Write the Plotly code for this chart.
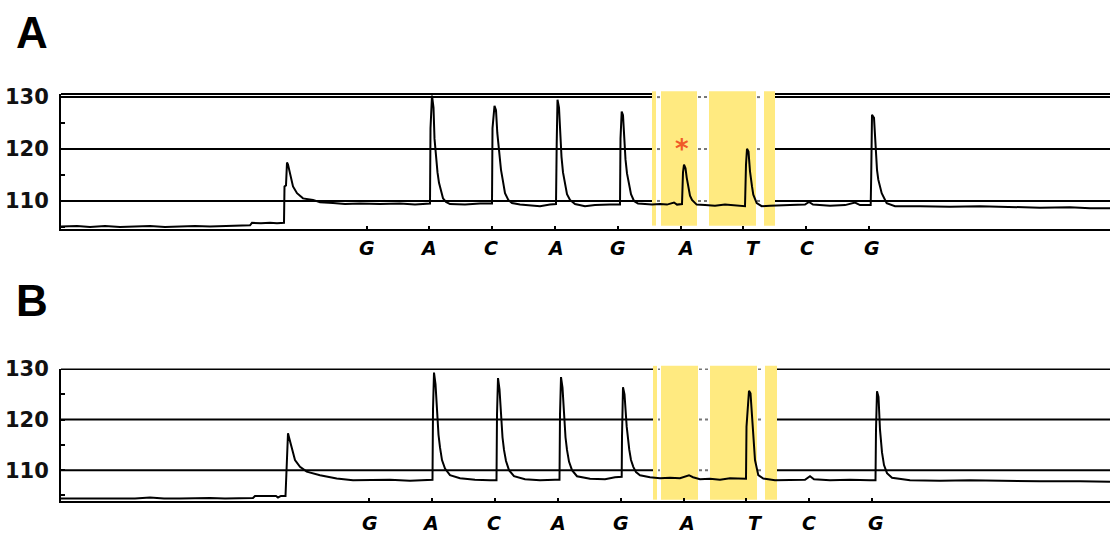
import plotly.graph_objects as go

# ---------------- data ----------------
# x axis: run time (arbitrary units), dispensation ticks along the axis
DISP_LETTERS = ["G", "A", "C", "A", "G", "A", "T", "C", "G"]
TICKS_A = [0, 61.5, 125, 188, 251, 314, 376, 439, 502]
TICKS_B = [0.2, 63, 126, 189, 252, 315, 377, 440, 503]
LETTER_X_A = [0, 61, 124, 188, 251, 318, 386, 440, 505]
LETTER_X_B = [1, 61, 125, 188, 252, 317, 386, 440, 507]

TA_X = [-306, -290, -277, -262, -247, -232, -217, -202, -187, -172, -157, -142, -127, -117, -115, -106, -97, -90, -83,
        -82.5, -81, -80, -79, -77, -74, -70, -64, -54, -47, -34, -22, -7, 13, 33, 48, 63,
        63.5, 65, 66.5, 67.5, 69, 70.5, 72, 74, 76, 79, 83, 98, 113, 125,
        125.5, 127.5, 129, 130.3, 132.3, 134, 135.7, 138, 141.3, 145, 153, 163, 173, 183, 189,
        189.7, 190.5, 192, 193, 194.5, 196, 198, 200, 203, 208, 218, 228, 243, 253,
        253.5, 254.7, 256, 257, 258.5, 260, 262, 264, 267, 271, 278, 285, 293, 300, 307, 310, 315,
        316, 317, 318.5, 319.7, 321.3, 323, 325, 329.7, 338, 348, 358, 368, 378,
        379, 380, 381.5, 383, 385, 386.3, 389.7, 394.7, 403, 413, 423, 438, 442, 446, 463, 478, 488, 493, 503.7,
        504.2, 505, 507, 508.5, 510, 511.3, 514.7, 519.7, 528, 553, 583, 613, 643, 673, 703, 723, 743]
TA_Y = [105.1, 105.2, 105.0, 105.2, 105.0, 105.1, 105.2, 105.0, 105.1, 105.2, 105.1, 105.2, 105.3, 105.3, 105.8, 105.7, 105.8, 105.7, 105.8,
        112.8, 113.0, 117.4, 117.0, 115.4, 112.8, 111.5, 110.5, 110.2, 109.75, 109.6, 109.4, 109.5, 109.4, 109.5, 109.3, 109.5,
        124, 130.3, 128, 122, 118, 115.5, 113.5, 111.8, 110.5, 109.8, 109.4, 109.3, 109.5, 109.5,
        124, 128.3, 127.5, 123.1, 118.6, 116, 114.1, 111.5, 110.2, 109.6, 109.3, 109.2, 109.0, 109.3, 109.4,
        121, 129.5, 128, 123, 118.5, 115.5, 113, 111.3, 110.2, 109.4, 109.0, 109.2, 109.3, 109.3,
        122, 127.2, 126.5, 122, 118, 115.3, 113, 111.3, 110.0, 109.5, 109.4, 109.3, 109.4, 109.3, 109.7, 109.3, 109.4,
        115.5, 117.0, 116.3, 114.5, 112.5, 111.0, 110.2, 109.3, 109.2, 109.1, 109.3, 109.2, 109.0,
        117, 120.05, 119.5, 115.7, 112.8, 111.2, 109.6, 109.0, 109.1, 109.2, 109.2, 109.3, 109.8, 109.3, 109.1, 109.2, 109.7, 109.2, 109.2,
        114.7, 126.6, 126.0, 120, 116, 114.1, 111.5, 109.55, 109.0, 109.0, 108.9, 109.0, 108.8, 108.7, 108.8, 108.6, 108.6]

TB_X = [-308, -290, -269, -250, -234, -219, -205, -189, -174, -159, -144, -129, -116, -114, -99, -93, -91, -88, -83.5,
        -83, -82.3, -81, -80, -77.3, -74, -69, -62.3, -49, -32.3, -16, 1, 21, 41, 56, 63.5,
        64, 65, 66.5, 68, 69.5, 71, 73, 76, 81, 91, 106, 121, 127.5,
        128, 129, 130.5, 132, 133.5, 135, 137, 140, 145, 156, 171, 186, 190.5,
        191, 192, 193.5, 195, 196.5, 198, 200, 203, 208, 221, 236, 246, 252.7,
        253, 254, 255.5, 257.7, 260.3, 262, 264.3, 267, 271, 281, 291, 301, 311, 316, 320, 324, 331, 341, 351, 361, 371, 377,
        377.5, 380, 381.5, 383.7, 386, 389.3, 394.3, 406, 421, 436, 441, 445, 461, 481, 501, 506.5,
        507, 508, 509.5, 511, 513, 515, 518, 523, 541, 571, 601, 631, 671, 711, 741]
TB_Y = [104.4, 104.4, 104.5, 104.4, 104.4, 104.6, 104.4, 104.4, 104.5, 104.5, 104.4, 104.4, 104.5, 104.9, 104.9, 104.9, 104.6, 104.9, 104.9,
        108.0, 113, 117.3, 116.5, 114.6, 112.0, 110.65, 109.7, 109.0, 108.35, 108.0, 108.0, 108.1, 107.9, 108.1, 108.1,
        122, 129.3, 127, 121, 117, 114.5, 112, 110.3, 109.0, 108.4, 108.1, 108.0, 108.0,
        121, 128.2, 126, 120, 116.5, 114, 111.8, 110.0, 108.8, 108.2, 108.0, 108.1, 108.1,
        121, 128.4, 126.3, 120, 116.5, 114, 111.7, 110.0, 108.8, 108.3, 108.2, 108.6, 108.7,
        116.6, 126.4, 125, 118.6, 114.0, 112.0, 110.65, 109.6, 109.0, 108.6, 108.4, 108.5, 108.4, 108.8, 109.0, 108.6, 108.2, 108.3, 108.1, 108.4, 108.3, 108.3,
        118.6, 125.7, 125.2, 118.6, 112.0, 109.0, 108.35, 108.0, 108.0, 108.1, 108.8, 108.2, 108.0, 108.1, 108.0, 108.0,
        118, 125.6, 124.5, 118, 113.5, 111, 109.4, 108.5, 108.0, 107.9, 108.0, 107.9, 107.8, 107.8, 107.7]

# highlighted (yellow) dispensation windows
HL_A = [(285, 289), (294, 330), (342, 389), (397, 408)]
HL_B = [(284, 288), (292, 329), (341, 388), (396, 408)]
YTICKS = [110, 120, 130]

# ---------------- figure ----------------
W, H = 1110, 536
fig = go.Figure()
fig.add_trace(go.Scatter(x=TA_X, y=TA_Y, mode="lines", line=dict(color="black", width=2),
                         xaxis="x", yaxis="y", showlegend=False, hoverinfo="skip"))
fig.add_trace(go.Scatter(x=TB_X, y=TB_Y, mode="lines", line=dict(color="black", width=2),
                         xaxis="x2", yaxis="y2", showlegend=False, hoverinfo="skip"))

xdom = [61 / W, 1.0]
ydomA = [1 - 229 / H, 1 - 94 / H]
ydomB = [1 - 501 / H, 1 - 368.5 / H]

tickfont = dict(family="DejaVu Sans", size=21, color="#111", weight="bold")
def yax(dom, rng, anchor):
    return dict(domain=dom, range=rng, anchor=anchor, tickvals=YTICKS, ticktext=[str(v) for v in YTICKS],
                showgrid=False, zeroline=False, automargin=False,
                showline=True, linecolor="black", linewidth=2, ticks="inside", ticklen=4,
                tickwidth=2, tickcolor="black", tickfont=tickfont, ticklabelstandoff=6,
                minor=dict(ticks="inside", ticklen=4, tickwidth=2, tickcolor="black",
                           tickvals=[105, 115, 125], showgrid=False),
                fixedrange=True)

def xax(dom, rng, ticks, anchor):
    return dict(domain=dom, range=rng, anchor=anchor, tickvals=ticks, ticktext=[""] * len(ticks),
                showgrid=False, zeroline=False, showline=True, linecolor="black", linewidth=2,
                automargin=False,
                ticks="inside", ticklen=3, tickwidth=2, tickcolor="black", fixedrange=True)

fig.update_layout(
    width=W, height=H, autosize=False,
    margin=dict(l=0, r=0, t=0, b=0),
    paper_bgcolor="white", plot_bgcolor="white",
    xaxis=xax(xdom, [-306, 743], TICKS_A, "y"),
    yaxis=yax(ydomA, [104.6, 130.6], "x"),
    xaxis2=xax(xdom, [-308, 741], TICKS_B, "y2"),
    yaxis2=yax(ydomB, [103.9, 130.1], "x2"),
)

shapes = []
YELLOW = "#FFEA80"
for (xr, yr, hl, ybot, top_frame) in [("x", "y", HL_A, 0.025, True), ("x2", "y2", HL_B, 0.01, False)]:
    # gridlines
    for v in YTICKS:
        shapes.append(dict(type="line", xref=xr + " domain", yref=yr, x0=0, x1=1, y0=v, y1=v,
                           line=dict(color="black", width=2), layer="below"))
    if top_frame:
        shapes.append(dict(type="line", xref=xr + " domain", yref=yr + " domain", x0=0, x1=1, y0=1, y1=1,
                           line=dict(color="black", width=2), layer="below"))
    # white backing over the whole window (hides gridlines there)
    shapes.append(dict(type="rect", xref=xr, yref=yr + " domain", x0=hl[0][0], x1=hl[-1][1],
                       y0=ybot, y1=1.02, fillcolor="white", line=dict(width=0), layer="below"))
    for a, b in hl:
        shapes.append(dict(type="rect", xref=xr, yref=yr + " domain", x0=a, x1=b, y0=ybot, y1=1.02,
                           fillcolor=YELLOW, line=dict(width=0), layer="below"))
    # dotted gridline stubs in the white gaps
    for i in range(len(hl) - 1):
        for v in YTICKS:
            shapes.append(dict(type="line", xref=xr, yref=yr, x0=hl[i][1] + 1, x1=hl[i + 1][0] - 1,
                               y0=v, y1=v, line=dict(color="#777", width=2, dash="dot"), layer="below"))
fig.update_layout(shapes=shapes)

ann = []
letterfont = dict(family="DejaVu Sans", size=19, color="black", weight="bold", style="italic")
for xs, xr, yr, yy in [(LETTER_X_A, "x", "y domain", -0.14), (LETTER_X_B, "x2", "y2 domain", -0.165)]:
    for xv, t in zip(xs, DISP_LETTERS):
        ann.append(dict(x=xv, y=yy, xref=xr, yref=yr, text=t, showarrow=False,
                        font=letterfont, xanchor="center", yanchor="middle"))
ann.append(dict(x=32 / W, y=1 - 33 / H, xref="paper", yref="paper", text="A", showarrow=False,
                font=dict(family="Liberation Sans", size=44, color="black", weight="bold"),
                xanchor="center", yanchor="middle"))
ann.append(dict(x=32 / W, y=1 - 300 / H, xref="paper", yref="paper", text="B", showarrow=False,
                font=dict(family="Liberation Sans", size=44, color="black", weight="bold"),
                xanchor="center", yanchor="middle"))
ann.append(dict(x=314.7, y=120.7, xref="x", yref="y", text="*", showarrow=False, yshift=-4,
                font=dict(family="DejaVu Sans", size=26, color="#F05A28", weight="bold"),
                xanchor="center", yanchor="middle"))
fig.update_layout(annotations=ann)

fig.write_html("out.html", config={"displayModeBar": False},
               post_script="document.body.style.margin='0';document.body.style.overflow='hidden';")
